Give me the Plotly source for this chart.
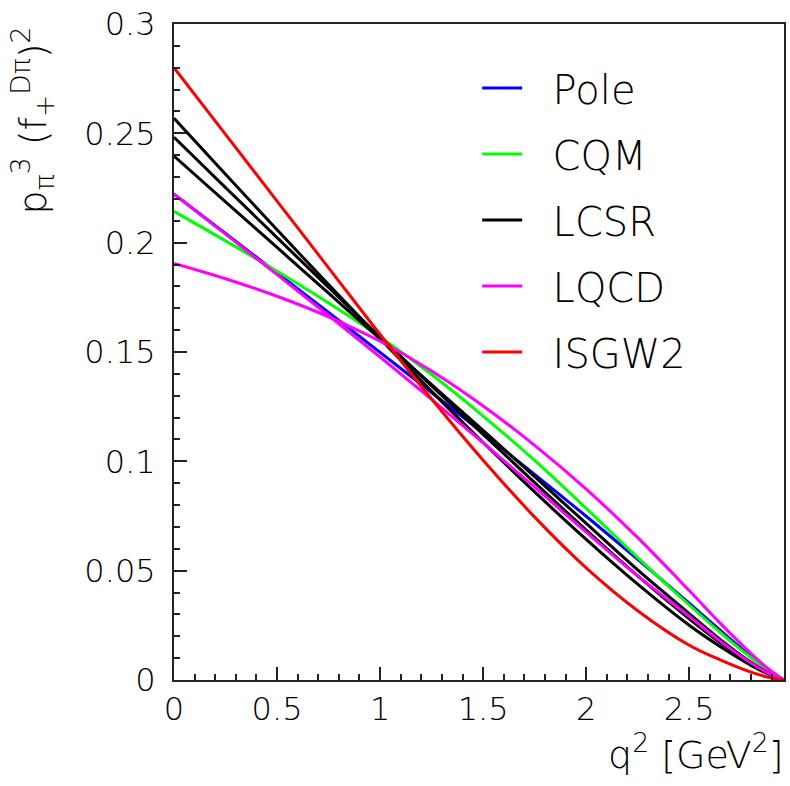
import plotly.graph_objects as go

q2 = [0, 0.25, 0.5, 0.75, 1.0, 1.25, 1.5, 1.75, 2.0, 2.25, 2.5, 2.65, 2.8, 2.9, 2.96]

pole = [0.2222, 0.2042, 0.1862, 0.1681, 0.1498, 0.1315, 0.1129, 0.0940, 0.0749, 0.0552, 0.0351, 0.0228, 0.0107, 0.0035, 0]
cqm = [0.2143, 0.2008, 0.1869, 0.1724, 0.1569, 0.1397, 0.1207, 0.1004, 0.0785, 0.0560, 0.0343, 0.0218, 0.0102, 0.0033, 0]
lcsr_a = [0.2396, 0.2187, 0.1978, 0.1769, 0.1560, 0.1351, 0.1142, 0.0930, 0.0716, 0.0504, 0.0304, 0.0186, 0.0081, 0.0024, 0]
lcsr_b = [0.2482, 0.2252, 0.2023, 0.1795, 0.1569, 0.1345, 0.1123, 0.0903, 0.0686, 0.0476, 0.0280, 0.0171, 0.0075, 0.0022, 0]
lcsr_c = [0.2569, 0.2313, 0.2059, 0.1808, 0.1561, 0.1320, 0.1086, 0.0860, 0.0643, 0.0438, 0.0250, 0.0153, 0.0067, 0.0020, 0]
lqcd_a = [0.2222, 0.2039, 0.1854, 0.1667, 0.1477, 0.1283, 0.1085, 0.0882, 0.0676, 0.0476, 0.0291, 0.0178, 0.0078, 0.0023, 0]
lqcd_b = [0.1905, 0.1835, 0.1755, 0.1661, 0.1549, 0.1413, 0.1253, 0.1073, 0.0873, 0.0651, 0.0409, 0.0260, 0.0121, 0.0039, 0]
isgw2 = [0.2800, 0.2495, 0.2190, 0.1885, 0.1580, 0.1285, 0.1005, 0.0745, 0.0513, 0.0317, 0.0159, 0.0092, 0.0036, 0.0009, 0]

series = [
    ("Pole", "#0000ff", [pole]),
    ("CQM", "#00ff00", [cqm]),
    ("LCSR", "#000000", [lcsr_a, lcsr_b, lcsr_c]),
    ("LQCD", "#ff00ff", [lqcd_a, lqcd_b]),
    ("ISGW2", "#ff0000", [isgw2]),
]

x_ticks = [0, 0.5, 1, 1.5, 2, 2.5]
x_ticktext = ["0", "0.5", "1", "1.5", "2", "2.5"]
y_ticks = [0, 0.05, 0.1, 0.15, 0.2, 0.25, 0.3]
y_ticktext = ["0", "0.05", "0.1", "0.15", "0.2", "0.25", "0.3"]

FONT = "DejaVu Sans, Liberation Sans, sans-serif"
NBSP = "\u00a0"

fig = go.Figure()
for name, color, curves in series:
    for i, ys in enumerate(curves):
        fig.add_trace(go.Scatter(
            x=q2, y=ys, mode="lines", name=NBSP * 2 + name, legendgroup=name,
            showlegend=(i == 0),
            line=dict(color=color, width=3, shape="spline", smoothing=1.0),
        ))

axis_common = dict(
    showgrid=False, zeroline=False, showline=True, linecolor="#222",
    linewidth=2, mirror=True, ticks="inside", tickcolor="#222",
    tickwidth=1.5, ticklen=13,
    tickfont=dict(family=FONT, size=32, color="black", weight=300),
)

fig.update_xaxes(range=[0, 2.96], tickvals=x_ticks, ticktext=x_ticktext,
                 minor=dict(dtick=0.1, tick0=0, ticks="inside", ticklen=6,
                            tickcolor="#222", tickwidth=1.5),
                 ticklabelstandoff=0, **axis_common)
fig.update_yaxes(range=[0, 0.3], tickvals=y_ticks, ticktext=y_ticktext,
                 minor=dict(dtick=0.01, tick0=0, ticks="inside", ticklen=6,
                            tickcolor="#222", tickwidth=1.5),
                 ticklabelstandoff=10, **axis_common)

fig.add_annotation(
    text="q<sup>2</sup> [GeV<sup>2</sup>]", xref="paper", yref="paper",
    x=1.004, y=-0.11, xanchor="right", yanchor="middle", showarrow=False,
    font=dict(family=FONT, size=38, color="black", weight=300),
)
fig.add_annotation(
    text="p<sub>π</sub><sup>3</sup> (f<sub>+</sub><sup>Dπ</sup>)<sup>2</sup>",
    xref="paper", yref="paper", x=-0.232, y=1.0, xanchor="center",
    yanchor="top", textangle=-90, showarrow=False,
    font=dict(family=FONT, size=38, color="black", weight=300),
)

fig.update_layout(
    width=790, height=786,
    margin=dict(l=174, r=4, t=24, b=106),
    paper_bgcolor="white", plot_bgcolor="white",
    showlegend=True,
    legend=dict(
        x=0.497, y=0.952, xanchor="left", yanchor="top",
        bgcolor="rgba(0,0,0,0)", borderwidth=0,
        font=dict(family=FONT, size=40, color="black", weight=300),
        traceorder="grouped", tracegroupgap=11, itemwidth=40,
    ),
)

fig.write_html("out.html")
